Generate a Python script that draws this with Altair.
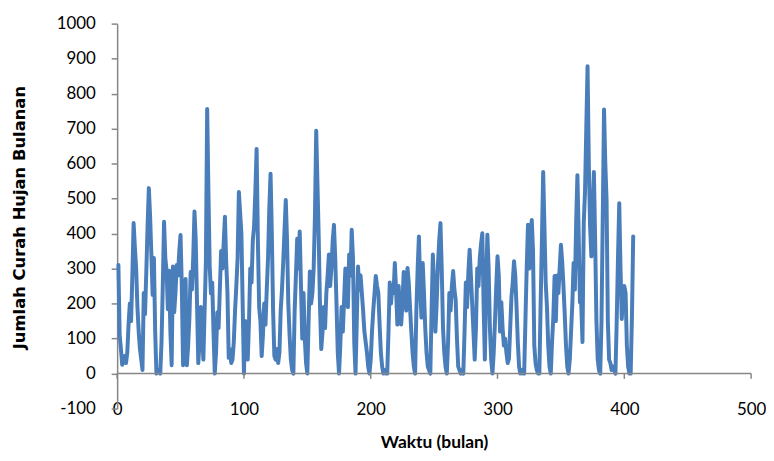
import altair as alt
import pandas as pd

# Monthly rainfall, months 1..407
rain = [
    310, 110, 70, 25, 35, 50, 30, 60, 140, 200,
    150, 280, 430, 360, 300, 190, 120, 70, 40, 10,
    230, 170, 290, 420, 530, 450, 340, 225, 330, 120,
    0, 10, 5, 0, 90, 250, 434, 330, 294, 184,
    294, 120, 24, 306, 175, 230, 310, 280, 350, 396,
    250, 24, 110, 270, 24, 80, 160, 290, 240, 330,
    463, 380, 200, 30, 90, 190, 120, 40, 180, 320,
    756, 520, 306, 229, 260, 120, 0, 60, 175, 130,
    240, 350, 300, 370, 448, 320, 232, 45, 70, 30,
    40, 90, 180, 250, 330, 519, 460, 400, 200, 0,
    150, 90, 40, 150, 300, 260, 380, 420, 520, 642,
    380, 190, 150, 50, 110, 200, 140, 240, 330, 470,
    571, 400, 180, 50, 40, 70, 30, 60, 180, 240,
    320, 410, 496, 380, 200, 110, 40, 10, 0, 180,
    280, 385, 300, 406, 250, 100, 230, 100, 30, 0,
    150, 292, 200, 230, 300, 450, 694, 540, 385, 190,
    70, 120, 190, 130, 230, 280, 340, 250, 300, 380,
    425, 330, 200, 60, 0, 80, 190, 120, 210, 300,
    250, 190, 340, 280, 411, 330, 90, 0, 150, 306,
    240, 280, 230, 180, 120, 90, 60, 20, 0, 40,
    120, 180, 230, 279, 250, 230, 140, 60, 20, 0,
    10, 0, 0, 120, 260, 200, 250, 230, 316, 240,
    140, 250, 180, 140, 200, 290, 240, 180, 302, 260,
    190, 120, 60, 20, 0, 180, 300, 392, 250, 160,
    316, 230, 130, 60, 20, 10, 0, 180, 340, 250,
    120, 200, 310, 380, 430, 300, 130, 60, 20, 0,
    90, 230, 180, 250, 293, 240, 210, 100, 20, 10,
    0, 10, 0, 120, 260, 190, 290, 354, 280, 200,
    120, 40, 130, 300, 250, 330, 370, 401, 200, 40,
    250, 397, 300, 130, 40, 0, 60, 150, 250, 335,
    280, 120, 204, 130, 80, 100, 60, 30, 42, 130,
    220, 260, 321, 280, 190, 90, 20, 0, 10, 0,
    0, 150, 300, 425, 300, 380, 439, 350, 80, 30,
    10, 0, 0, 200, 380, 576, 420, 260, 190, 80,
    20, 0, 90, 160, 279, 150, 280, 230, 300, 368,
    320, 250, 170, 80, 20, 0, 40, 120, 200, 316,
    240, 430, 567, 400, 204, 200, 90, 430, 520, 700,
    878, 600, 420, 335, 450, 576, 380, 150, 40, 10,
    0, 150, 450, 755, 600, 496, 150, 40, 30, 10,
    20, 10, 0, 150, 330, 487, 300, 156, 240, 250,
    230, 80, 20, 0, 0, 160, 392,
]
months = list(range(1, len(rain) + 1))

x_ticks = [0, 100, 200, 300, 400, 500]
y_ticks = [-100, 0, 100, 200, 300, 400, 500, 600, 700, 800, 900, 1000]

x_title = "Waktu (bulan)"
y_title = "Jumlah Curah Hujan  Bulanan"

df = pd.DataFrame({"bulan": months, "curah": rain})
tick_df = pd.DataFrame({"bulan": x_ticks})
zero_df = pd.DataFrame({"curah": [0]})

FONT = "Lato"
AXIS_GRAY = "#868686"

x_scale = alt.Scale(domain=[0, 500], nice=False, zero=False)
y_scale = alt.Scale(domain=[-100, 1000], nice=False, zero=False)

x_axis = alt.Axis(
    values=x_ticks,
    domain=False,
    ticks=False,
    grid=False,
    labelExpr="'' + datum.value",
    labelOverlap=False,
    labelFont=FONT,
    labelFontSize=17,
    labelColor="#000000",
    labelBaseline="middle",
    labelPadding=1,
    labelFlush=False,
    titleFont=FONT,
    titleFontSize=17.5,
    titleFontWeight="bold",
    titleColor="#000000",
    titleBaseline="middle",
    titleY=34,
)

y_axis = alt.Axis(
    values=y_ticks,
    tickCount=12,
    grid=False,
    labelExpr="'' + datum.value",
    labelOverlap=False,
    domainColor=AXIS_GRAY,
    domainWidth=1.5,
    tickColor=AXIS_GRAY,
    tickWidth=1.5,
    tickSize=6,
    labelFont=FONT,
    labelFontSize=17,
    labelColor="#000000",
    labelPadding=16,
    labelFlush=False,
    titleFont="DejaVu Sans",
    titleFontSize=16.5,
    titleFontWeight="bold",
    titleColor="#000000",
    titleBaseline="middle",
    titleAlign="center",
    titleAngle=-90,
    titleX=-98,
    titleY=195,
)

line = alt.Chart(df).mark_line(
    color="#4a7ebb", strokeWidth=4, strokeJoin="round", strokeCap="round"
).encode(
    x=alt.X("bulan:Q", scale=x_scale, title=x_title, axis=x_axis),
    y=alt.Y("curah:Q", scale=y_scale, title=y_title, axis=y_axis),
)

zero_line = alt.Chart(zero_df).mark_rule(color=AXIS_GRAY, strokeWidth=1.5).encode(
    y=alt.Y("curah:Q", scale=y_scale, title=y_title, axis=y_axis)
)

x_tick_marks = alt.Chart(tick_df).mark_rule(color=AXIS_GRAY, strokeWidth=1.5).encode(
    x=alt.X("bulan:Q", scale=x_scale, title=x_title, axis=x_axis),
    y=alt.YDatum(0, scale=y_scale, title=y_title, axis=y_axis),
    y2=alt.Y2Datum(-15),
)

chart = (
    alt.layer(line, zero_line, x_tick_marks)
    .properties(
        width=639,
        height=388,
        padding={"left": 110, "top": 14, "right": 15, "bottom": 41},
        autosize=alt.AutoSizeParams(type="none"),
        background="white",
    )
    .configure_view(stroke=None)
    .configure_axis(labelOverlap=False)
)

chart.save("out.html", embed_options={"renderer": "svg", "actions": False})
